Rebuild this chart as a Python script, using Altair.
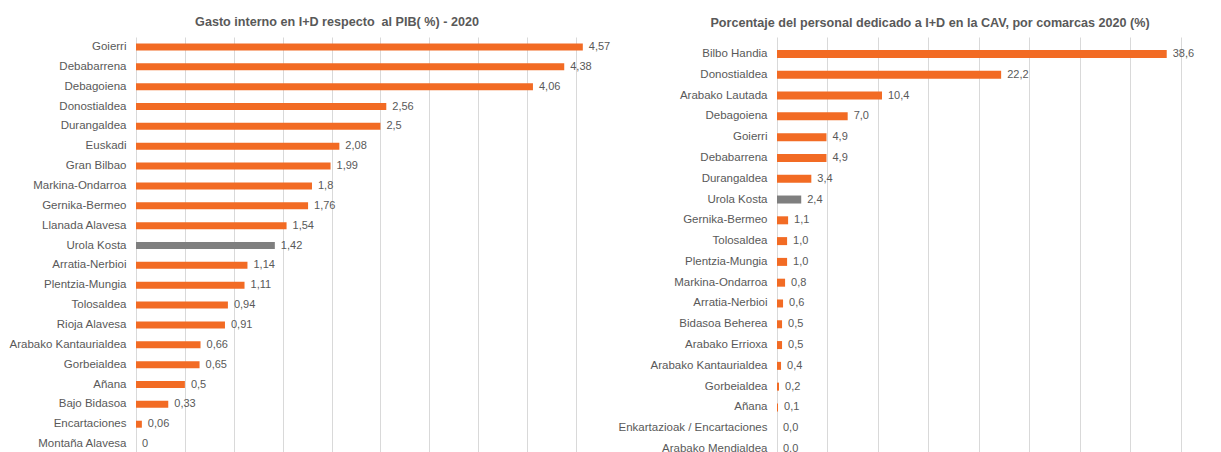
import altair as alt
import pandas as pd

# ---------------- data ----------------
left_names = ["Goierri", "Debabarrena", "Debagoiena\u00a0", "Donostialdea", "Durangaldea",
              "Euskadi", "Gran Bilbao", "Markina-Ondarroa", "Gernika-Bermeo", "Llanada Alavesa",
              "Urola Kosta", "Arratia-Nerbioi", "Plentzia-Mungia", "Tolosaldea", "Rioja Alavesa",
              "Arabako Kantaurialdea", "Gorbeialdea", "Añana", "Bajo Bidasoa", "Encartaciones",
              "Montaña Alavesa"]
left_values = [4.57, 4.38, 4.06, 2.56, 2.5, 2.08, 1.99, 1.8, 1.76, 1.54, 1.42, 1.14, 1.11,
               0.94, 0.91, 0.66, 0.65, 0.5, 0.33, 0.06, 0]
left_labels = ["4,57", "4,38", "4,06", "2,56", "2,5", "2,08", "1,99", "1,8", "1,76", "1,54",
               "1,42", "1,14", "1,11", "0,94", "0,91", "0,66", "0,65", "0,5", "0,33", "0,06", "0"]
left_grid = [0, 0.5, 1, 1.5, 2, 2.5, 3, 3.5, 4, 4.5]
left_title = "Gasto interno en I+D respecto\u00a0 al PIB( %) - 2020"

right_names = ["Bilbo Handia\u00a0", "Donostialdea", "Arabako Lautada", "Debagoiena", "Goierri",
               "Debabarrena", "Durangaldea", "Urola Kosta", "Gernika-Bermeo", "Tolosaldea",
               "Plentzia-Mungia", "Markina-Ondarroa", "Arratia-Nerbioi", "Bidasoa Beherea",
               "Arabako Errioxa", "Arabako Kantaurialdea", "Gorbeialdea", "Añana",
               "Enkartazioak / Encartaciones", "Arabako Mendialdea"]
right_values = [38.6, 22.2, 10.4, 7.0, 4.9, 4.9, 3.4, 2.4, 1.1, 1.0, 1.0, 0.8, 0.6, 0.5, 0.5,
                0.4, 0.2, 0.1, 0.0, 0.0]
right_labels = ["38,6", "22,2", "10,4", "7,0", "4,9", "4,9", "3,4", "2,4", "1,1", "1,0", "1,0",
                "0,8", "0,6", "0,5", "0,5", "0,4", "0,2", "0,1", "0,0", "0,0"]
right_grid = [0, 5, 10, 15, 20, 25, 30, 35, 40]
right_title = "Porcentaje del personal dedicado a I+D en la CAV, por comarcas 2020 (%)"

highlight = "Urola Kosta"

ORANGE = "#F26B24"
GRAY = "#7F7F7F"
TEXT = "#595959"
GRID = "#D9D9D9"
FONT = "Liberation Sans"


def make_df(names, values, labels):
    return pd.DataFrame({
        "name": names,
        "value": values,
        "label": labels,
        "hl": ["h" if n.strip("\u00a0 ") == highlight else "n" for n in names],
    })


def panel(df, title, xmax, grid_vals, width, height, pad_outer, bar_size, title_dx, title_offset):
    y = alt.Y("name:N", sort=None, title=None,
              scale=alt.Scale(paddingInner=0, paddingOuter=pad_outer),
              axis=alt.Axis(domain=False, ticks=False, labelPadding=10, labelFontSize=11.5,
                            labelColor=TEXT, labelFont=FONT, labelLimit=400))
    x = alt.X("value:Q", title=None,
              scale=alt.Scale(domain=[0, xmax], nice=False, zero=True),
              axis=alt.Axis(values=grid_vals, labels=False, ticks=False, domain=False,
                            grid=True, gridColor=GRID, gridWidth=1))
    bars = alt.Chart(df).mark_bar(size=bar_size).encode(
        x=x, y=y,
        color=alt.Color("hl:N", scale=alt.Scale(domain=["n", "h"], range=[ORANGE, GRAY]),
                        legend=None),
    )
    text = alt.Chart(df).mark_text(align="left", baseline="middle", dx=6, fontSize=11,
                                   font=FONT, color=TEXT).encode(
        x=x, y=y, text="label:N")
    return alt.layer(bars, text).properties(
        width=width, height=height,
        title=alt.TitleParams(title, fontSize=12.6, font=FONT, fontWeight="bold", color=TEXT,
                              anchor="middle", frame="group", dx=title_dx,
                              baseline="alphabetic", offset=title_offset),
    )


left = panel(make_df(left_names, left_values, left_labels), left_title,
             4.756, left_grid, 465, 417, 0, 7, -31.5, -1.1)
right = panel(make_df(right_names, right_values, right_labels), right_title,
              41.5, right_grid, 419, 429, 0.317, 8, -56.5, -2.6)

chart = alt.hconcat(left, right, spacing=176, bounds="flush").properties(
    padding={"left": 1, "top": 7, "right": 0, "bottom": 0}
).configure_view(stroke=None)

chart.save("out.html", embed_options={"renderer": "svg", "actions": False})
